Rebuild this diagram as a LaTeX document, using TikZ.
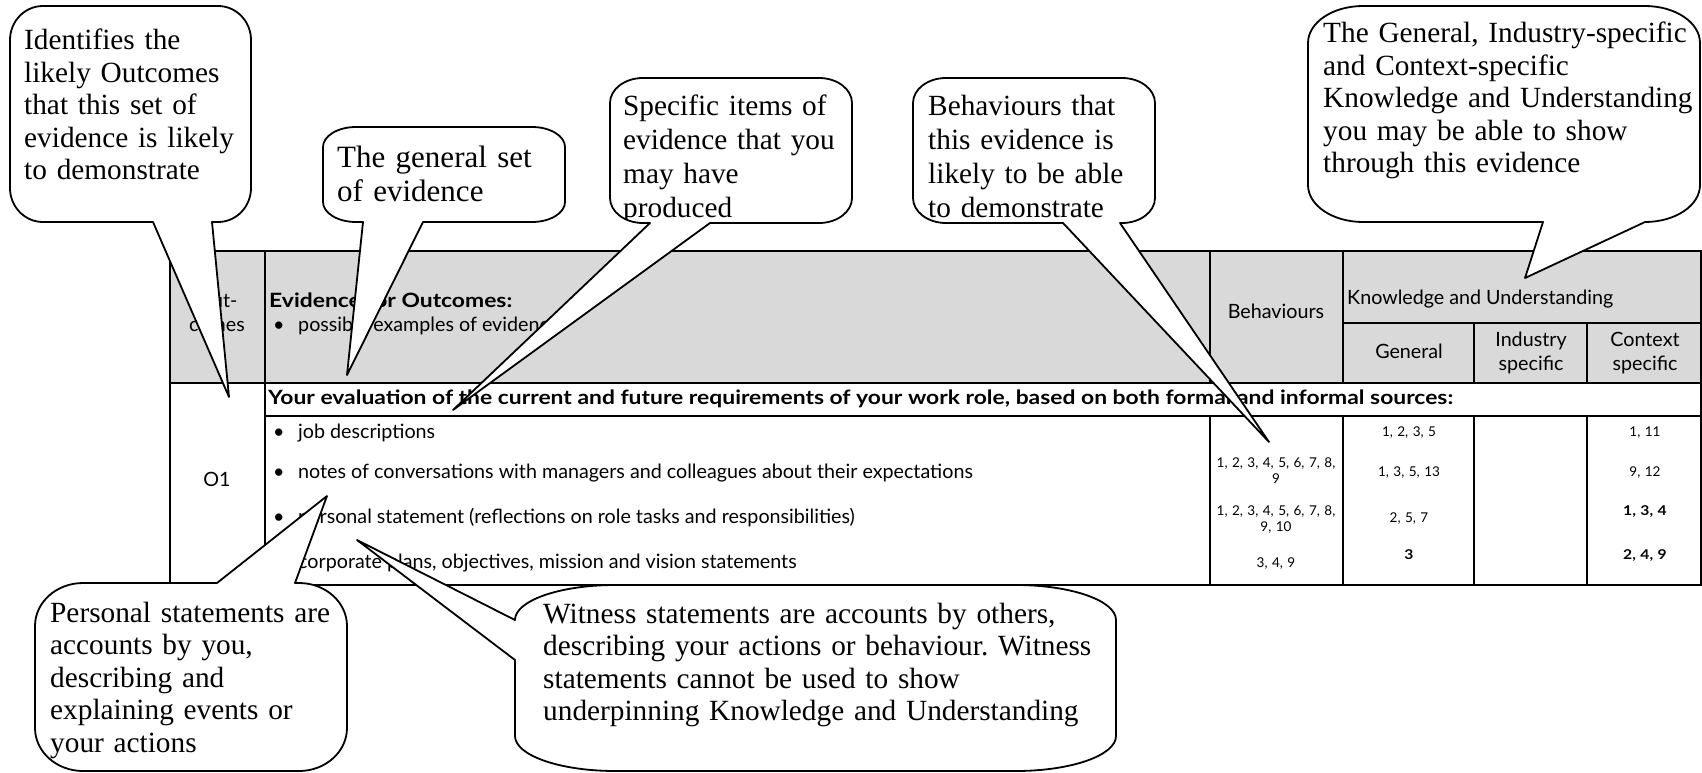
\documentclass[tikz,border=0pt]{standalone}
\usepackage{fontspec}
\setmainfont{Liberation Serif}
\newfontfamily\gillsans{Lato}[BoldFeatures={FakeStretch=1.16}]
\definecolor{headgray}{RGB}{217,217,217}
\frenchspacing

\begin{document}
\begin{tikzpicture}[x=1pt,y=-1pt,
  tablerule/.style={line width=1.5pt},
  bubble/.style={draw,fill=white,line width=1.8pt,line join=round},
  note/.style={anchor=base west,inner sep=0pt,align=left,text width=#1,
    font=\fontsize{29.3}{32.5}\selectfont},
  cell/.style={anchor=base,inner sep=0pt,font=\gillsans\fontsize{19.7}{24}\selectfont},
  lcell/.style={cell,anchor=base west},
  bcell/.style={lcell,font=\gillsans\bfseries\fontsize{19.7}{24}\selectfont},
  num/.style={anchor=base,inner sep=0pt,align=center,text width=128,
    font=\gillsans\fontsize{13.5}{16.5}\selectfont}]

\useasboundingbox (0,0) rectangle (1702,773);

% Shaded header of the table
\fill[headgray] (170,251) rectangle (1702,383);

% Frame and the rules between rows
\draw[tablerule] (170,251) rectangle (1701,585);
\draw[tablerule] (170,383) -- (1701,383);
\draw[tablerule] (265,416) -- (1701,416);
\draw[tablerule] (1343,323) -- (1701,323);

% Column rules, broken by the row that runs across the table
\draw[tablerule] (265,251) -- (265,585);
\foreach \x in {1210,1343}
  \draw[tablerule] (\x,251) -- (\x,383) (\x,416) -- (\x,585);
\foreach \x in {1474,1587}
  \draw[tablerule] (\x,323) -- (\x,383) (\x,416) -- (\x,585);

% Header cells
\node[cell,align=center,text width=90] (outcomes) at (217,307) {Out-\\comes};
\node[bcell] (evidence) at (269,307) {Evidence for Outcomes:};
\node[lcell] (dot0) at (273,331) {\textbullet};
\node[lcell] (possible) at (298,331) {possible examples of evidence};
\node[cell] (behaviours) at (1276,318) {Behaviours};
\node[lcell] (knowledge) at (1347,304) {Knowledge and Understanding};
\node[cell] (general) at (1409,358) {General};
\node[cell,align=center,text width=110] (industry) at (1531,346) {Industry\\specific};
\node[cell,align=center,text width=110] (context) at (1645,346) {Context\\specific};

% Row that spans the evidence columns
\node[bcell] (section) at (268,404) {Your evaluation of the current and future requirements of your work role, based on both formal and informal sources:};

\node[cell] (o1) at (217,486) {O1};

% Items of evidence
\foreach \y/\t [count=\i] in {438/job descriptions,
    478/notes of conversations with managers and colleagues about their expectations,
    523/personal statement (reflections on role tasks and responsibilities),
    568/{corporate plans, objectives, mission and vision statements}}{
  \node[lcell] (dot\i) at (273,\y) {\textbullet};
  \node[lcell] (item\i) at (298,\y) {\t};
}

% Behaviours and Knowledge and Understanding references
\node[num] (beh2) at (1276,467) {1, 2, 3, 4, 5, 6, 7, 8,\\9};
\node[num] (beh3) at (1276,515) {1, 2, 3, 4, 5, 6, 7, 8,\\9, 10};
\node[num] (beh4) at (1276,567) {3, 4, 9};
\node[num] (gen1) at (1409,436) {1, 2, 3, 5};
\node[num] (gen2) at (1409,476) {1, 3, 5, 13};
\node[num] (gen3) at (1409,522) {2, 5, 7};
\node[num] (gen4) at (1409,559) {\bfseries 3};
\node[num] (ctx1) at (1645,436) {1, 11};
\node[num] (ctx2) at (1645,476) {9, 12};
\node[num] (ctx3) at (1645,515) {\bfseries 1, 3, 4};
\node[num] (ctx4) at (1645,559) {\bfseries 2, 4, 9};

% Points where the callouts end
\coordinate (tipOut) at (229,397);
\coordinate (tipSet) at (347,375);
\coordinate (tipItems) at (453,410);
\coordinate (tipBeh) at (1269,442);
\coordinate (tipKU) at (1525,278);
\coordinate (tipPers) at (327,496);
\coordinate (tipWit) at (357,540);

% Callouts above the table, wedge on the lower side
\draw[bubble] (153,222) -- (43,222) arc[start angle=90,end angle=180,x radius=33,y radius=34]
  -- (10,40) arc[start angle=180,end angle=270,x radius=33,y radius=34]
  -- (218,6) arc[start angle=270,end angle=360,x radius=33,y radius=34]
  -- (251,188) arc[start angle=0,end angle=90,x radius=33,y radius=34]
  -- (212,222) -- (tipOut) -- cycle;
\draw[bubble] (363,222) -- (356,222) arc[start angle=90,end angle=180,x radius=33,y radius=20]
  -- (323,147) arc[start angle=180,end angle=270,x radius=33,y radius=20]
  -- (532,127) arc[start angle=270,end angle=360,x radius=33,y radius=20]
  -- (565,202) arc[start angle=0,end angle=90,x radius=33,y radius=20]
  -- (423,222) -- (tipSet) -- cycle;
\draw[bubble] (650,223) -- (643,223) arc[start angle=90,end angle=180,x radius=33,y radius=25]
  -- (610,103) arc[start angle=180,end angle=270,x radius=33,y radius=25]
  -- (819,78) arc[start angle=270,end angle=360,x radius=33,y radius=25]
  -- (852,198) arc[start angle=0,end angle=90,x radius=33,y radius=25]
  -- (710,223) -- (tipItems) -- cycle;
\draw[bubble] (1063,223) -- (946,223) arc[start angle=90,end angle=180,x radius=33,y radius=25]
  -- (913,103) arc[start angle=180,end angle=270,x radius=33,y radius=25]
  -- (1122,78) arc[start angle=270,end angle=360,x radius=33,y radius=25]
  -- (1155,198) arc[start angle=0,end angle=90,x radius=33,y radius=25]
  -- (1120,223) -- (tipBeh) -- cycle;
\draw[bubble] (1543,222) -- (1363,222) arc[start angle=90,end angle=180,x radius=55,y radius=37]
  -- (1308,43) arc[start angle=180,end angle=270,x radius=55,y radius=37]
  -- (1645,6) arc[start angle=270,end angle=360,x radius=55,y radius=37]
  -- (1700,185) arc[start angle=0,end angle=90,x radius=55,y radius=37]
  -- (tipKU) -- cycle;

% Callouts below the table
\draw[bubble] (295,583) -- (299,583) arc[start angle=270,end angle=360,x radius=48,y radius=43]
  -- (347,728) arc[start angle=0,end angle=90,x radius=48,y radius=43]
  -- (83,771) arc[start angle=90,end angle=180,x radius=48,y radius=43]
  -- (35,626) arc[start angle=180,end angle=270,x radius=48,y radius=43]
  -- (217,583) -- (tipPers) -- cycle;
\draw[bubble] (515,660) -- (515,736) arc[start angle=180,end angle=90,x radius=100,y radius=35]
  -- (1016,771) arc[start angle=90,end angle=0,x radius=100,y radius=35]
  -- (1116,620) arc[start angle=360,end angle=270,x radius=100,y radius=35]
  -- (615,585) arc[start angle=270,end angle=180,x radius=100,y radius=35]
  -- (tipWit) -- cycle;

% Texts of the callouts
\node[note=230] (outnote) at (24,50) {Identifies the\\likely Outcomes\\that this set of\\evidence is likely\\to demonstrate};
\node[note=225,font=\fontsize{31}{35}\selectfont] (setnote) at (337,167) {The general set\\of evidence};
\begin{scope}
  \clip (610,78) rectangle (852,219);
  \node[note=225,font=\fontsize{29.3}{34}\selectfont] (itemsnote) at (623,116) {Specific items of\\evidence that you\\may have\\produced};
\end{scope}
\begin{scope}
  \clip (913,78) rectangle (1155,219);
  \node[note=225,font=\fontsize{29.3}{34}\selectfont] (behnote) at (928,116) {Behaviours that\\this evidence is\\likely to be able\\to demonstrate};
\end{scope}
\node[note=375] (kunote) at (1323,43) {The General, Industry-specific\\and Context-specific\\Knowledge and Understanding\\you may be able to show\\through this evidence};
\node[note=295] (persnote) at (50,622) {Personal statements are\\accounts by you,\\describing and\\explaining events or\\your actions};
\node[note=560] (witnote) at (543,623) {Witness statements are accounts by others,\\describing your actions or behaviour. Witness\\statements cannot be used to show\\underpinning Knowledge and Understanding};

\end{tikzpicture}
\end{document}
